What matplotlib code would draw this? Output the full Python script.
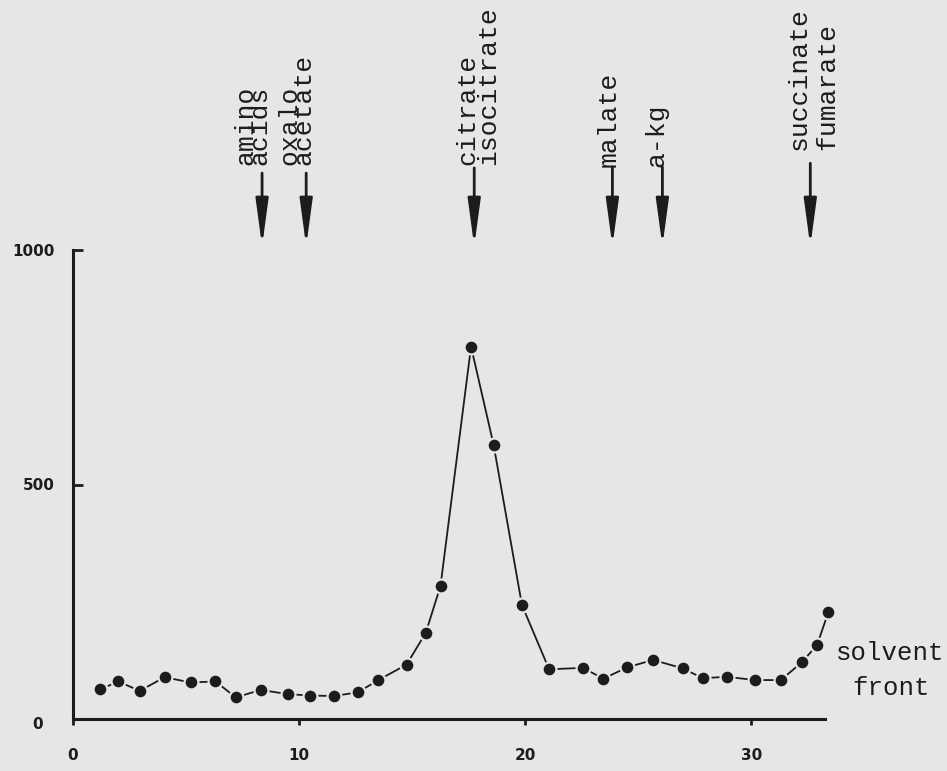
import matplotlib
matplotlib.use("Agg")
import matplotlib.pyplot as plt
from matplotlib.patches import ArrowStyle
from matplotlib.transforms import ScaledTranslation

# Fraction number and counts for each collected fraction
fraction = [1.2, 2.0, 2.95, 4.05, 5.2, 6.3, 7.2, 8.3, 9.5, 10.5, 11.55, 12.6,
            13.5, 14.75, 15.6, 16.25, 17.6, 18.6, 19.85, 21.05, 22.55, 23.45,
            24.5, 25.65, 26.95, 27.85, 28.9, 30.15, 31.3, 32.25, 32.9, 33.4]
counts = [63, 80, 60, 89, 78, 80, 46, 62, 53, 50, 49, 57,
          83, 116, 184, 284, 794, 584, 243, 106, 109, 86,
          110, 126, 108, 87, 90, 83, 83, 122, 158, 228]

# Marker standards: arrow position and the label beside it
std_labels = ["amino\nacids", "oxalo\nacetate", "citrate\nisocitrate",
              "malate", "a-kg", "succinate\nfumarate"]
std_arrow_x = [8.36, 10.31, 17.74, 23.85, 26.06, 32.6]
std_label_x = [7.93, 9.87, 17.9, 23.68, 25.8, 32.72]
std_label_base = [1181, 1181, 1181, 1178, 1178, 1213]
std_label_spacing = [0.46, 0.46, 0.83, 1.0, 1.0, 1.25]
std_arrow_top = [1164, 1164, 1175, 1177, 1177, 1185]

xticks = [0, 10, 20, 30]
yticks = [0, 500, 1000]

bg = "#e6e6e6"
ink = "#1c1c1c"
mono = "Liberation Mono"

fig = plt.figure(figsize=(9.47, 7.71), dpi=100, facecolor=bg)
ax = fig.add_axes([73 / 947, 52 / 771, 752 / 947, 469 / 771], facecolor=bg)

ax.plot(fraction, counts, color=ink, lw=1.3, marker="o", ms=10,
        markerfacecolor=ink, markeredgecolor=bg, markeredgewidth=1.6,
        clip_on=False, zorder=3)

ax.set_xlim(0, 33.25)
ax.set_ylim(0, 1000)
for side in ("top", "right"):
    ax.spines[side].set_visible(False)
for side in ("left", "bottom"):
    ax.spines[side].set_linewidth(2.2)
    ax.spines[side].set_color(ink)

ax.set_xticks(xticks)
ax.set_yticks(yticks)
ax.set_xticklabels([str(v) for v in xticks], fontweight="bold", fontsize=11, color=ink)
ax.set_yticklabels([str(v) for v in yticks], fontweight="bold", fontsize=11, color=ink)
ax.tick_params(axis="y", direction="in", length=7, width=2, color=ink, pad=13)
ax.tick_params(axis="x", direction="out", length=4, width=2, color=ink, pad=17)

# the origin's count label sits a little further out and lower
zero_label = ax.yaxis.get_major_ticks()[0].label1
zero_label.set_transform(zero_label.get_transform()
                         + ScaledTranslation(-0.12, -0.04, fig.dpi_scale_trans))

arrow = ArrowStyle("-|>", head_length=2.8, head_width=0.38)
for label, xa, xl, base, ls, top in zip(std_labels, std_arrow_x, std_label_x,
                                        std_label_base, std_label_spacing,
                                        std_arrow_top):
    ax.annotate("", xy=(xa, 1008), xytext=(xa, top),
                xycoords="data", textcoords="data", annotation_clip=False,
                arrowprops=dict(arrowstyle=arrow, mutation_scale=10, lw=2,
                                color=ink, shrinkA=0, shrinkB=0))
    ax.text(xl, base, label, rotation=90, rotation_mode="anchor",
            ha="left", va="center", multialignment="left", linespacing=ls,
            fontsize=19, family=mono, color=ink, clip_on=False)

ax.text(36.15, 104, "solvent\nfront", ha="center", va="center",
        multialignment="center", linespacing=1.6, fontsize=18.5,
        family=mono, color=ink, clip_on=False)

fig.savefig("out.png", dpi=100, facecolor=bg)
